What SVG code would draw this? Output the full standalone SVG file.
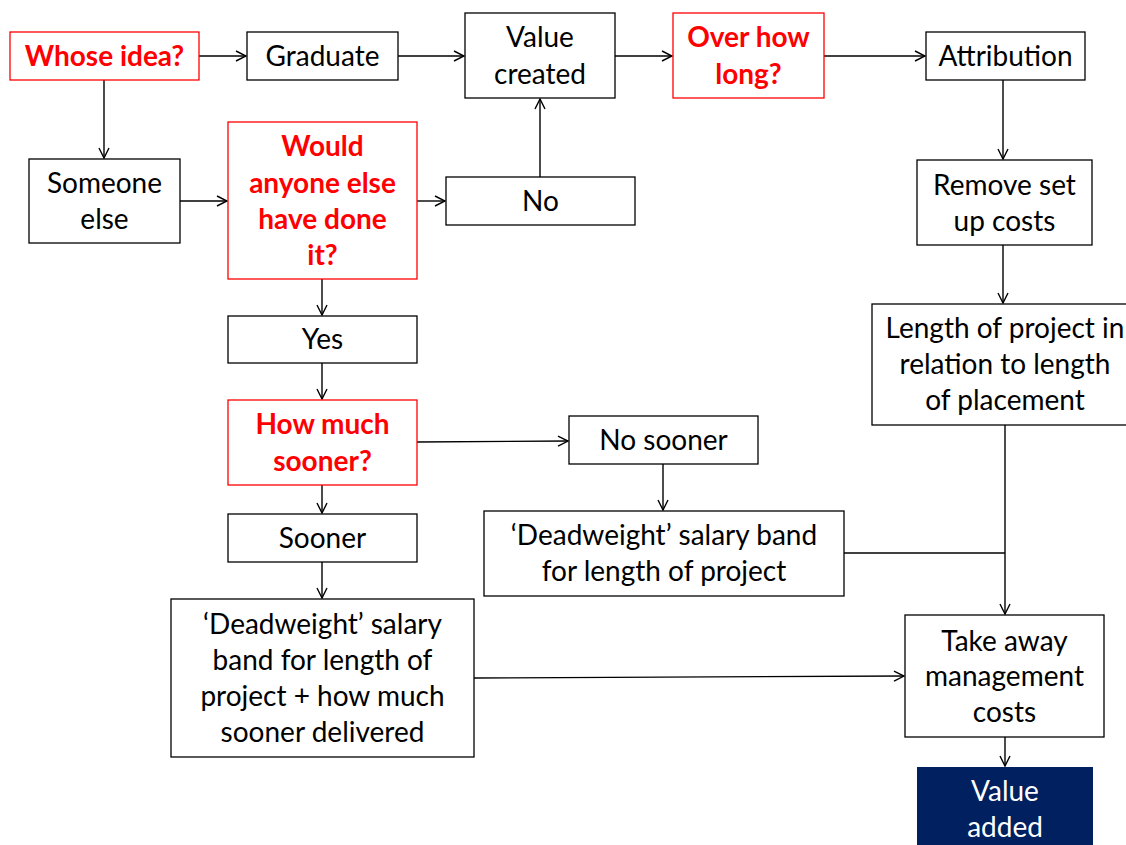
<svg xmlns="http://www.w3.org/2000/svg" width="1126" height="845" viewBox="0 0 1126 845">
<style>
.box{fill:#fff;stroke:#000;stroke-width:1.3}
.red{fill:#fff;stroke:#ff0000;stroke-width:1.3}
.navy{fill:#002060;stroke:none}
text{font-family:Lato,"Open Sans","Liberation Sans",sans-serif;font-size:28px;text-anchor:middle;fill:#000}
.rt{fill:#ff0000;font-weight:bold}
.wt{fill:#fff}
.c{fill:none;stroke:#000;stroke-width:1.4}
</style>
<defs>
<marker id="a" viewBox="0 0 12 12" refX="11" refY="6" markerWidth="12" markerHeight="12" markerUnits="userSpaceOnUse" orient="auto">
<path d="M1,1 L11,6 L1,11" fill="none" stroke="#000" stroke-width="1.4"/>
</marker>
</defs>
<rect width="1126" height="845" fill="#fff"/>
<g id="connectors">
<line class="c" x1="199" y1="56" x2="246" y2="56" marker-end="url(#a)"/>
<line class="c" x1="104" y1="80" x2="104" y2="158" marker-end="url(#a)"/>
<line class="c" x1="398" y1="56" x2="464" y2="56" marker-end="url(#a)"/>
<line class="c" x1="615" y1="56" x2="672" y2="56" marker-end="url(#a)"/>
<line class="c" x1="824" y1="56" x2="925" y2="56" marker-end="url(#a)"/>
<line class="c" x1="180" y1="201" x2="227" y2="201" marker-end="url(#a)"/>
<line class="c" x1="417" y1="201" x2="445" y2="201" marker-end="url(#a)"/>
<line class="c" x1="540" y1="177" x2="540" y2="99" marker-end="url(#a)"/>
<line class="c" x1="1003" y1="80" x2="1003" y2="159" marker-end="url(#a)"/>
<line class="c" x1="1003" y1="245" x2="1003" y2="303" marker-end="url(#a)"/>
<line class="c" x1="1005" y1="425" x2="1005" y2="614" marker-end="url(#a)"/>
<line class="c" x1="322" y1="279" x2="322" y2="315" marker-end="url(#a)"/>
<line class="c" x1="322" y1="363" x2="322" y2="399" marker-end="url(#a)"/>
<line class="c" x1="417" y1="442" x2="568" y2="441" marker-end="url(#a)"/>
<line class="c" x1="663" y1="464" x2="663" y2="510" marker-end="url(#a)"/>
<line class="c" x1="844" y1="553" x2="1005" y2="553"/>
<line class="c" x1="322" y1="485" x2="322" y2="513" marker-end="url(#a)"/>
<line class="c" x1="322" y1="562" x2="322" y2="598" marker-end="url(#a)"/>
<line class="c" x1="474" y1="678" x2="904" y2="676" marker-end="url(#a)"/>
<line class="c" x1="1005" y1="737" x2="1005" y2="766" marker-end="url(#a)"/>
</g>
<g id="whose"><rect class="red" x="10" y="32" width="189" height="48"/><text class="rt" x="104.5" y="66">Whose idea?</text></g>
<g id="graduate"><rect class="box" x="247" y="32" width="151" height="48"/><text x="322.5" y="66">Graduate</text></g>
<g id="valuecreated"><rect class="box" x="465" y="13" width="150" height="85"/><text x="540" y="47">Value</text><text x="540" y="84">created</text></g>
<g id="overhowlong"><rect class="red" x="673" y="13" width="151" height="85"/><text class="rt" x="748.5" y="47">Over how</text><text class="rt" x="748.5" y="84">long?</text></g>
<g id="attribution"><rect class="box" x="926" y="32" width="159" height="48"/><text x="1005.5" y="66">Attribution</text></g>
<g id="someone"><rect class="box" x="29" y="159" width="151" height="84"/><text x="104.5" y="193">Someone</text><text x="104.5" y="229">else</text></g>
<g id="would"><rect class="red" x="228" y="122" width="189" height="157"/><text class="rt" x="322.5" y="156">Would</text><text class="rt" x="322.5" y="193">anyone else</text><text class="rt" x="322.5" y="229">have done</text><text class="rt" x="322.5" y="265">it?</text></g>
<g id="no"><rect class="box" x="446" y="177" width="189" height="48"/><text x="540.5" y="211">No</text></g>
<g id="remove"><rect class="box" x="917" y="160" width="175" height="85"/><text x="1004.5" y="195">Remove set</text><text x="1004.5" y="231">up costs</text></g>
<g id="lengthproj"><rect class="box" x="872" y="304" width="260" height="121"/><text x="1005" y="338">Length of project in</text><text x="1005" y="374">relation to length</text><text x="1005" y="410">of placement</text></g>
<g id="yes"><rect class="box" x="228" y="316" width="189" height="47"/><text x="322.5" y="349">Yes</text></g>
<g id="howmuch"><rect class="red" x="228" y="400" width="189" height="85"/><text class="rt" x="322.5" y="434">How much</text><text class="rt" x="322.5" y="471">sooner?</text></g>
<g id="nosooner"><rect class="box" x="569" y="416" width="189" height="48"/><text x="663.5" y="450">No sooner</text></g>
<g id="deadweight1"><rect class="box" x="484" y="511" width="360" height="85"/><text x="664" y="545">‘Deadweight’ salary band</text><text x="664" y="581">for length of project</text></g>
<g id="sooner"><rect class="box" x="228" y="514" width="189" height="48"/><text x="322.5" y="548">Sooner</text></g>
<g id="deadweight2"><rect class="box" x="171" y="599" width="303" height="158"/><text x="322.5" y="634">‘Deadweight’ salary</text><text x="322.5" y="670">band for length of</text><text x="322.5" y="706">project + how much</text><text x="322.5" y="742">sooner delivered</text></g>
<g id="takeaway"><rect class="box" x="905" y="615" width="199" height="122"/><text x="1004.5" y="651">Take away</text><text x="1004.5" y="686">management</text><text x="1004.5" y="722">costs</text></g>
<g id="valueadded"><rect class="navy" x="917" y="767" width="176" height="90"/><text class="wt" x="1005" y="801">Value</text><text class="wt" x="1005" y="837">added</text></g>
</svg>
